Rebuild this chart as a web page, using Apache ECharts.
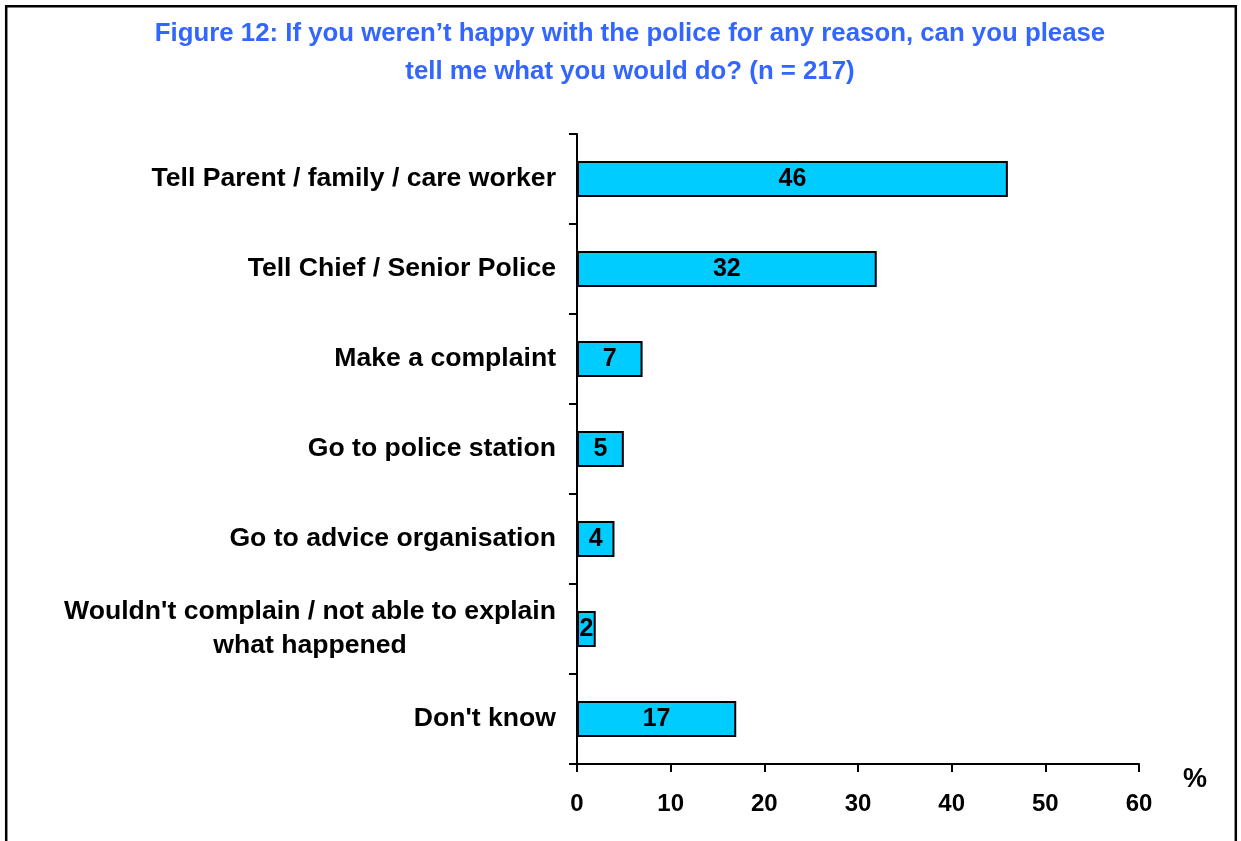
<!DOCTYPE html>
<html>
<head>
<meta charset="utf-8">
<script src="https://cdn.jsdelivr.net/npm/echarts@6/dist/echarts.min.js"></script>
<style>
html,body{margin:0;padding:0;background:#fff;}
#chart{width:1241px;height:841px;}
</style>
</head>
<body>
<div id="chart"></div>
<script>
const titleLines = ["Figure 12: If you weren\u2019t happy with the police for any reason, can you please", "tell me what you would do? (n = 217)"];
const categories = [
  "Tell Parent / family / care worker",
  "Tell Chief / Senior Police",
  "Make a complaint",
  "Go to police station",
  "Go to advice organisation",
  "Wouldn't complain / not able to explain\nwhat happened",
  "Don't know"
];
const values = [46, 32, 7, 5, 4, 2, 17];
const xTicks = [0, 10, 20, 30, 40, 50, 60];
const unitLabel = "%";

const FONT = "'Liberation Sans', Arial, sans-serif";
const chart = echarts.init(document.getElementById('chart'), null, {renderer: 'canvas'});
chart.setOption({
  backgroundColor: '#fff',
  animation: false,
  title: {
    text: titleLines.join('\n'),
    left: 625,
    textAlign: 'center',
    top: 10,
    textStyle: {color: '#3366FF', fontFamily: FONT, fontWeight: 'bold', fontSize: 25.8, lineHeight: 38}
  },
  graphic: [
    {type: 'rect', shape: {x: 6.2, y: 6.2, width: 1229.6, height: 900}, style: {fill: 'none', stroke: '#000', lineWidth: 2.5}, silent: true},
    {type: 'text', left: 1183, top: 766, style: {text: unitLabel, fill: '#000', font: 'bold 27px ' + FONT}}
  ],
  grid: {left: 577, right: 102, top: 134, bottom: 77, containLabel: false},
  xAxis: {
    type: 'value',
    min: xTicks[0],
    max: xTicks[xTicks.length - 1],
    interval: 10,
    axisLine: {show: true, lineStyle: {color: '#000', width: 2}},
    axisTick: {show: true, length: 8, lineStyle: {color: '#000', width: 2}},
    splitLine: {show: false},
    axisLabel: {color: '#000', fontFamily: FONT, fontWeight: 'bold', fontSize: 24, margin: 28}
  },
  yAxis: {
    type: 'category',
    data: categories,
    inverse: true,
    axisLine: {show: true, lineStyle: {color: '#000', width: 2}},
    axisTick: {show: true, length: 8, lineStyle: {color: '#000', width: 2}},
    axisLabel: {
      color: '#000', fontFamily: FONT, fontWeight: 'bold', fontSize: 26.6, margin: 21,
      formatter: function (v) {
        return v.split('\n').map(function (s) { return '{c|' + s + '}'; }).join('\n');
      },
      rich: {c: {align: 'center', color: '#000', fontFamily: FONT, fontWeight: 'bold', fontSize: 26.6, lineHeight: 34}}
    }
  },
  series: [{
    type: 'bar',
    data: values,
    barCategoryGap: '60%',
    itemStyle: {color: '#00CCFF', borderColor: '#000', borderWidth: 2},
    label: {show: true, position: 'inside', color: '#000', fontFamily: FONT, fontWeight: 'bold', fontSize: 25}
  }]
});
</script>
</body>
</html>
